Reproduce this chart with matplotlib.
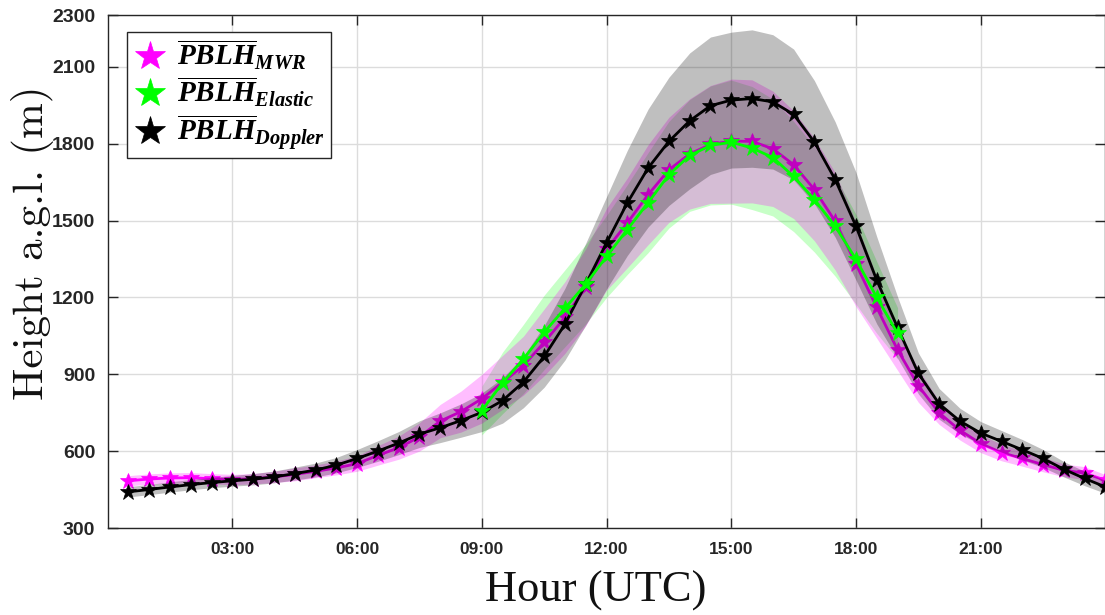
"""Mean diurnal PBLH from MWR, elastic lidar and Doppler lidar with +/- std bands."""

import matplotlib

matplotlib.use("Agg")
import matplotlib.pyplot as plt  # noqa: E402
from matplotlib.lines import Line2D  # noqa: E402
import numpy as np  # noqa: E402

# ---- data --------------------------------------------------------------------
hours = np.arange(1, 49) * 0.5  # 00:30 ... 24:00

mwr_mean = [485, 492, 496, 497, 493, 490, 493, 500, 510, 522, 535, 552,
            584, 614, 656, 718, 755, 805, 869, 934, 1025, 1122, 1240, 1388,
            1491, 1601, 1698, 1760, 1797, 1810, 1809, 1780, 1718, 1621, 1497, 1330,
            1161, 996, 856, 750, 682, 630, 595, 572, 548, 526, 515, 487]
mwr_std = [20, 20, 20, 20, 20, 20, 20, 22, 25, 25, 27, 30,
           38, 45, 55, 65, 80, 95, 105, 115, 130, 140, 150, 160,
           175, 195, 205, 215, 230, 242, 240, 225, 210, 200, 190, 165,
           120, 80, 65, 45, 38, 35, 32, 30, 28, 25, 25, 22]

doppler_mean = [442, 451, 461, 470, 478, 485, 491, 500, 513, 527, 546, 572,
                601, 632, 667, 692, 720, 752, 798, 870, 970, 1096, 1252, 1413,
                1569, 1705, 1809, 1889, 1948, 1970, 1976, 1963, 1914, 1806, 1660, 1478,
                1267, 1083, 904, 785, 718, 671, 639, 606, 572, 530, 494, 461]
doppler_std = [20, 20, 20, 20, 20, 21, 22, 23, 25, 27, 30, 35,
               40, 45, 52, 58, 65, 75, 88, 100, 120, 140, 160, 180,
               205, 230, 250, 265, 268, 265, 268, 262, 255, 240, 225, 210,
               170, 120, 80, 60, 50, 45, 42, 40, 35, 30, 28, 25]

elastic_hours = np.arange(18, 39) * 0.5  # 09:00 ... 19:00
elastic_mean = [759, 867, 960, 1064, 1158, 1252, 1360, 1465, 1570, 1679, 1754,
                1793, 1806, 1783, 1746, 1672, 1582, 1478, 1349, 1200, 1060]
elastic_std = [95, 120, 135, 145, 150, 155, 160, 175, 195, 208, 218,
               232, 242, 240, 228, 215, 205, 195, 175, 140, 100]

xtick_hours = [3, 6, 9, 12, 15, 18, 21]
xtick_labels = ["03:00", "06:00", "09:00", "12:00", "15:00", "18:00", "21:00"]
yticks = [300, 600, 900, 1200, 1500, 1800, 2100, 2300]

MAGENTA = "#FF00FF"
GREEN = "#00FF00"
BLACK = "#000000"

plt.rcParams["mathtext.fontset"] = "custom"
plt.rcParams["mathtext.it"] = "Liberation Serif:italic:bold"
plt.rcParams["mathtext.rm"] = "Liberation Serif:bold"

fig = plt.figure(figsize=(11.05, 6.15), dpi=100)
ax = fig.add_axes([0.0974, 0.1411, 0.9030, 0.8337])

mwr_mean = np.asarray(mwr_mean, float)
mwr_std = np.asarray(mwr_std, float)
doppler_mean = np.asarray(doppler_mean, float)
doppler_std = np.asarray(doppler_std, float)
elastic_mean = np.asarray(elastic_mean, float)
elastic_std = np.asarray(elastic_std, float)

# bands first (elastic under mwr under doppler), then lines
ax.fill_between(elastic_hours, elastic_mean - elastic_std, elastic_mean + elastic_std,
                color=GREEN, alpha=0.22, lw=0, zorder=1)
ax.fill_between(hours, mwr_mean - mwr_std, mwr_mean + mwr_std,
                color=MAGENTA, alpha=0.26, lw=0, zorder=2)
ax.plot(hours, mwr_mean, color=MAGENTA, lw=2, marker="*", ms=12, mew=0.5, zorder=3)
ax.fill_between(hours, doppler_mean - doppler_std, doppler_mean + doppler_std,
                color=BLACK, alpha=0.25, lw=0, zorder=4)
ax.plot(hours, doppler_mean, color=BLACK, lw=2, marker="*", ms=12, mew=0.5, zorder=5)
ax.plot(elastic_hours, elastic_mean, color=GREEN, lw=2, marker="*", ms=12, mew=0.5,
        zorder=6)

ax.set_xlim(0, 24)
ax.set_ylim(300, 2300)
ax.set_xticks(xtick_hours)
ax.set_xticklabels(xtick_labels)
ax.set_yticks(yticks)
ax.grid(True, color="#dcdcdc", lw=1)
ax.set_axisbelow(True)
ax.tick_params(direction="in", length=7, width=1, top=True, right=True,
               colors="#262626", labelcolor="#262626")
ax.tick_params(axis="x", pad=10, labelsize=12.5)
ax.tick_params(axis="y", pad=9, labelsize=14)
for lab in ax.get_xticklabels() + ax.get_yticklabels():
    lab.set_fontfamily("Liberation Sans")
    lab.set_fontweight("bold")
for sp in ax.spines.values():
    sp.set_color("#262626")
    sp.set_linewidth(1)

ax.set_xlabel("Hour (UTC)", family="Liberation Serif", fontsize=32, color="#111111")
ax.xaxis.set_label_coords(0.489, -0.083)
ax.xaxis.label.set_va("top")
ax.set_ylabel("Height a.g.l. (m)", family="cmr10", fontsize=31, color="#111111")
ax.yaxis.set_label_coords(-0.0757, 0.557)
ax.yaxis.label.set_va("center")

handles = [
    Line2D([], [], ls="none", marker="*", color=MAGENTA, ms=22, mew=0.5),
    Line2D([], [], ls="none", marker="*", color=GREEN, ms=22, mew=0.5),
    Line2D([], [], ls="none", marker="*", color=BLACK, ms=22, mew=0.5),
]
labels = [r"$\overline{PBLH}_{MWR}$", r"$\overline{PBLH}_{Elastic}$",
          r"$\overline{PBLH}_{Doppler}$"]
leg = ax.legend(handles, labels, loc="upper left", bbox_to_anchor=(0.0195, 0.968),
                borderaxespad=0, fontsize=21, frameon=True, fancybox=False,
                edgecolor="#262626", framealpha=1, handlelength=1.2,
                handletextpad=0.3, labelspacing=0.1, borderpad=0.2)
leg.get_frame().set_linewidth(1)
leg.set_zorder(10)

fig.savefig("out.png", dpi=100)
